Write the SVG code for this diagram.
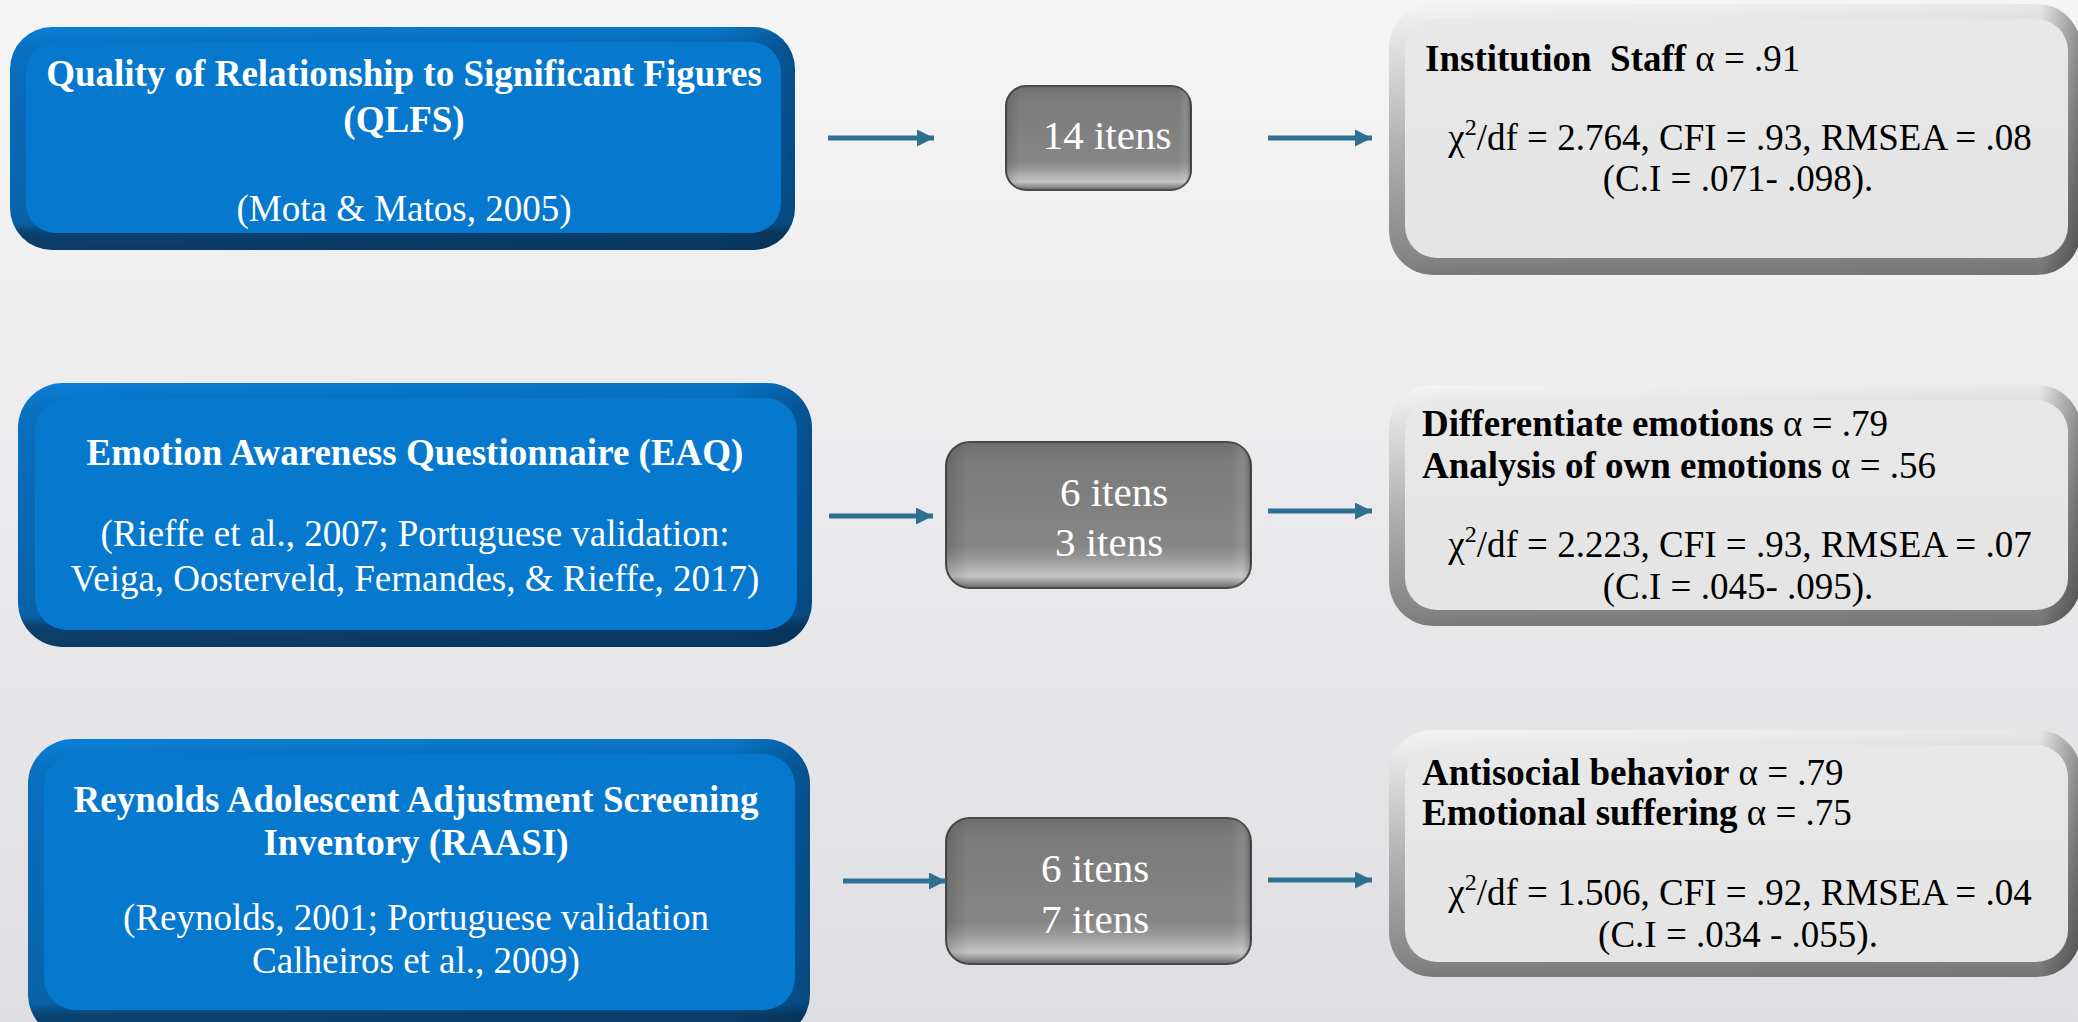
<svg xmlns="http://www.w3.org/2000/svg" width="2078" height="1022" viewBox="0 0 2078 1022">
<style>
text{font-family:"Liberation Serif","Times New Roman",serif;font-size:37px}
.w{fill:#ffffff}
.k{fill:#000000}
.b{font-weight:bold}
.c{text-anchor:middle}
.it{font-size:41px;fill:#ffffff;text-anchor:middle}
.conn{stroke:#2f7090;stroke-width:5;fill:none;marker-end:url(#ah)}
.blueOuter{fill:url(#gBlueOuter)}
.blueShade{fill:url(#gBlueShade)}
.blueFace{fill:#0678ce}
.grayOuter{fill:url(#gGrayOuter);stroke:#4a4a4a;stroke-width:2}
.grayShade{fill:url(#gGrayShade)}
.lightOuter{fill:url(#gLightOuter)}
.lightShade{fill:url(#gLightShade)}
.lightFace{fill:url(#gLightFace)}
</style>
<defs>
<linearGradient id="gBg" x1="0" y1="0" x2="0" y2="1">
<stop offset="0" stop-color="#f5f5f5"/>
<stop offset="1" stop-color="#dfdfe3"/>
</linearGradient>
<linearGradient id="gBlueOuter" x1="0" y1="0" x2="0" y2="1">
<stop offset="0" stop-color="#0a80d8"/>
<stop offset="0.1" stop-color="#0870c0"/>
<stop offset="0.88" stop-color="#0862a8"/>
<stop offset="0.92" stop-color="#0b426f"/>
<stop offset="1" stop-color="#0b3b64"/>
</linearGradient>
<linearGradient id="gBlueShade" x1="0" y1="0" x2="1" y2="0">
<stop offset="0" stop-color="#000000" stop-opacity="0"/>
<stop offset="0.9" stop-color="#001830" stop-opacity="0.1"/>
<stop offset="1" stop-color="#001830" stop-opacity="0.35"/>
</linearGradient>
<linearGradient id="gGrayOuter" x1="0" y1="0" x2="0" y2="1">
<stop offset="0" stop-color="#6e6e6e"/>
<stop offset="0.12" stop-color="#7a7a7a"/>
<stop offset="0.72" stop-color="#868686"/>
<stop offset="0.8" stop-color="#999999"/>
<stop offset="0.92" stop-color="#c4c4c4"/>
<stop offset="1" stop-color="#6a6a6a"/>
</linearGradient>
<linearGradient id="gGrayShade" x1="0" y1="0" x2="1" y2="0">
<stop offset="0" stop-color="#000000" stop-opacity="0.15"/>
<stop offset="0.07" stop-color="#000000" stop-opacity="0"/>
<stop offset="0.93" stop-color="#ffffff" stop-opacity="0"/>
<stop offset="0.97" stop-color="#ffffff" stop-opacity="0.1"/>
<stop offset="1" stop-color="#000000" stop-opacity="0.25"/>
</linearGradient>
<linearGradient id="gLightOuter" x1="0" y1="0" x2="0" y2="1">
<stop offset="0" stop-color="#f4f4f4"/>
<stop offset="0.5" stop-color="#b4b4b4"/>
<stop offset="0.9" stop-color="#8a8a8a"/>
<stop offset="1" stop-color="#7a7a7a"/>
</linearGradient>
<linearGradient id="gLightShade" x1="0" y1="0" x2="1" y2="0">
<stop offset="0" stop-color="#000000" stop-opacity="0"/>
<stop offset="0.94" stop-color="#000000" stop-opacity="0.05"/>
<stop offset="1" stop-color="#000000" stop-opacity="0.4"/>
</linearGradient>
<linearGradient id="gLightFace" x1="0" y1="0" x2="0" y2="1">
<stop offset="0" stop-color="#e8e8e8"/>
<stop offset="1" stop-color="#e4e4e4"/>
</linearGradient>
<marker id="ah" viewBox="0 0 17 17" refX="17" refY="8.5" markerUnits="userSpaceOnUse" markerWidth="17" markerHeight="17" orient="auto">
<path d="M0,0 L17,8.5 L0,17 z" fill="#2f7090"/>
</marker>
</defs>

<rect x="0" y="0" width="2078" height="1022" fill="url(#gBg)"/>

<g id="qlfs">
<rect class="blueOuter" x="10" y="27" width="785" height="223" rx="42"/>
<rect class="blueShade" x="10" y="27" width="785" height="223" rx="42"/>
<rect class="blueFace" x="26" y="42" width="755" height="191" rx="30"/>
<text class="w b c" x="404" y="86">Quality of Relationship to Significant Figures</text>
<text class="w b c" x="404" y="132">(QLFS)</text>
<text class="w c" x="404" y="221">(Mota &amp; Matos, 2005)</text>
</g>

<g id="eaq">
<rect class="blueOuter" x="18" y="383" width="794" height="264" rx="45"/>
<rect class="blueShade" x="18" y="383" width="794" height="264" rx="45"/>
<rect class="blueFace" x="35" y="398" width="762" height="232" rx="32"/>
<text class="w b c" x="415" y="465">Emotion Awareness Questionnaire (EAQ)</text>
<text class="w c" x="415" y="546">(Rieffe et al., 2007; Portuguese validation:</text>
<text class="w c" x="415" y="591">Veiga, Oosterveld, Fernandes, &amp; Rieffe, 2017)</text>
</g>

<g id="raasi">
<rect class="blueOuter" x="28" y="739" width="782" height="300" rx="45"/>
<rect class="blueShade" x="28" y="739" width="782" height="300" rx="45"/>
<rect class="blueFace" x="44" y="754" width="751" height="256" rx="32"/>
<text class="w b c" x="416" y="812">Reynolds Adolescent Adjustment Screening</text>
<text class="w b c" x="416" y="855">Inventory (RAASI)</text>
<text class="w c" x="416" y="930">(Reynolds, 2001; Portuguese validation</text>
<text class="w c" x="416" y="973">Calheiros et al., 2009)</text>
</g>

<g id="items1">
<rect class="grayOuter" x="1006" y="86" width="185" height="104" rx="20"/>
<rect class="grayShade" x="1006" y="86" width="185" height="104" rx="20"/>
<text class="it" x="1107" y="149">14 itens</text>
</g>

<g id="items2">
<rect class="grayOuter" x="946" y="442" width="305" height="146" rx="24"/>
<rect class="grayShade" x="946" y="442" width="305" height="146" rx="24"/>
<text class="it" x="1114" y="506">6 itens</text>
<text class="it" x="1109" y="556">3 itens</text>
</g>

<g id="items3">
<rect class="grayOuter" x="946" y="818" width="305" height="146" rx="24"/>
<rect class="grayShade" x="946" y="818" width="305" height="146" rx="24"/>
<text class="it" x="1095" y="882">6 itens</text>
<text class="it" x="1095" y="933">7 itens</text>
</g>

<g id="result1">
<rect class="lightOuter" x="1389" y="4" width="692" height="271" rx="44"/>
<rect class="lightShade" x="1389" y="4" width="692" height="271" rx="44"/>
<rect class="lightFace" x="1405" y="19" width="663" height="239" rx="32"/>
<text class="k" x="1425" y="71" style="white-space:pre"><tspan class="b">Institution  Staff</tspan> α = .91</text>
<text class="k c" x="1740" y="150">χ<tspan font-size="24" dy="-15">2</tspan><tspan dy="15">/df = 2.764, CFI = .93, RMSEA = .08</tspan></text>
<text class="k c" x="1738" y="191">(C.I = .071- .098).</text>
</g>

<g id="result2">
<rect class="lightOuter" x="1389" y="385" width="692" height="241" rx="44"/>
<rect class="lightShade" x="1389" y="385" width="692" height="241" rx="44"/>
<rect class="lightFace" x="1405" y="400" width="663" height="210" rx="32"/>
<text class="k" x="1422" y="436"><tspan class="b">Differentiate emotions</tspan> α = .79</text>
<text class="k" x="1422" y="478"><tspan class="b">Analysis of own emotions</tspan> α = .56</text>
<text class="k c" x="1740" y="557">χ<tspan font-size="24" dy="-15">2</tspan><tspan dy="15">/df = 2.223, CFI = .93, RMSEA = .07</tspan></text>
<text class="k c" x="1738" y="599">(C.I = .045- .095).</text>
</g>

<g id="result3">
<rect class="lightOuter" x="1389" y="730" width="692" height="247" rx="44"/>
<rect class="lightShade" x="1389" y="730" width="692" height="247" rx="44"/>
<rect class="lightFace" x="1405" y="745" width="663" height="217" rx="32"/>
<text class="k" x="1422" y="785"><tspan class="b">Antisocial behavior</tspan> α = .79</text>
<text class="k" x="1422" y="825"><tspan class="b">Emotional suffering</tspan> α = .75</text>
<text class="k c" x="1740" y="905">χ<tspan font-size="24" dy="-15">2</tspan><tspan dy="15">/df = 1.506, CFI = .92, RMSEA = .04</tspan></text>
<text class="k c" x="1738" y="947">(C.I = .034 - .055).</text>
</g>

<g id="connectors">
<line class="conn" x1="828" y1="138" x2="934" y2="138"/>
<line class="conn" x1="1268" y1="138" x2="1372" y2="138"/>
<line class="conn" x1="829" y1="516" x2="933" y2="516"/>
<line class="conn" x1="1268" y1="511" x2="1372" y2="511"/>
<line class="conn" x1="843" y1="881" x2="946" y2="881"/>
<line class="conn" x1="1268" y1="880" x2="1372" y2="880"/>
</g>
</svg>
